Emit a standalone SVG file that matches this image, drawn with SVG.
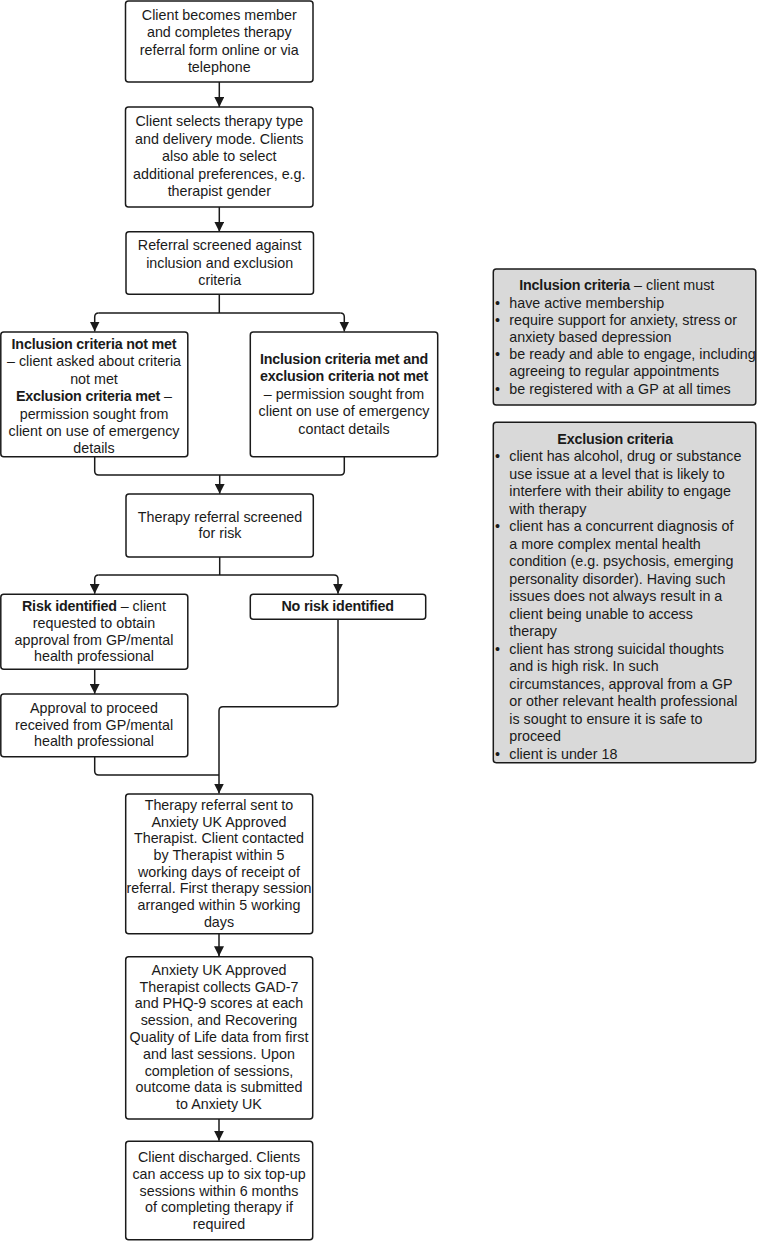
<svg xmlns="http://www.w3.org/2000/svg" width="757" height="1242" viewBox="0 0 757 1242">
<style>
text{font-family:"Liberation Sans",Arial,sans-serif;font-size:14.3px;fill:#1a1a1a}
.c{text-anchor:middle}
.b{font-weight:bold;letter-spacing:-0.2px}
.box{fill:#fff;stroke:#1a1a1a;stroke-width:1.5}
.panel{fill:#d9d9d9;stroke:#1a1a1a;stroke-width:1.5}
.ln{fill:none;stroke:#1a1a1a;stroke-width:1.5}
.ar{fill:none;stroke:#1a1a1a;stroke-width:1.5;marker-end:url(#ah)}
</style>
<defs>
<marker id="ah" markerUnits="userSpaceOnUse" markerWidth="10" markerHeight="10" refX="10" refY="5" orient="auto">
<path d="M0,0 L10,5 L0,10 z" fill="#1a1a1a"/>
</marker>
</defs>
<rect width="757" height="1242" fill="#fff"/>

<g id="connectors">
<path class="ar" d="M219.3 82 V107"/>
<path class="ar" d="M219.3 207 V231.7"/>
<path class="ln" d="M219.3 294.3 V313"/>
<path class="ar" d="M98.7 313 Q94.7 313 94.7 317 V331.5"/>
<path class="ln" d="M98.7 313 H340.3"/>
<path class="ar" d="M340.3 313 Q344.3 313 344.3 317 V331.5"/>
<path class="ln" d="M94.7 456.7 V471 Q94.7 475 98.7 475 H340.3 Q344.3 475 344.3 471 V456.7"/>
<path class="ar" d="M219.7 475 V493.8"/>
<path class="ln" d="M219.7 557 V575"/>
<path class="ar" d="M98.7 575 Q94.7 575 94.7 579 V593.8"/>
<path class="ln" d="M98.7 575 H334"/>
<path class="ar" d="M334 575 Q338 575 338 579 V593.8"/>
<path class="ar" d="M94.7 669.3 V693.8"/>
<path class="ar" d="M338 619.3 V702.7 Q338 706.7 334 706.7 H223 Q219 706.7 219 710.7 V793.5"/>
<path class="ln" d="M94.7 756.7 V771 Q94.7 775 98.7 775 H219"/>
<path class="ar" d="M219 933.7 V956.2"/>
<path class="ar" d="M219 1119 V1140.8"/>
</g>

<g id="n1">
<rect class="box" x="125.5" y="1" width="187.5" height="81" rx="3"/>
<text class="c" x="219.3" y="19.5">Client becomes member</text>
<text class="c" x="219.3" y="37">and completes therapy</text>
<text class="c" x="219.3" y="54.5">referral form online or via</text>
<text class="c" x="219.3" y="72">telephone</text>
</g>

<g id="n2">
<rect class="box" x="125.5" y="107" width="187.5" height="100" rx="3"/>
<text class="c" x="219.3" y="126">Client selects therapy type</text>
<text class="c" x="219.3" y="143.5">and delivery mode. Clients</text>
<text class="c" x="219.3" y="161">also able to select</text>
<text class="c" x="219.3" y="178.5">additional preferences, e.g.</text>
<text class="c" x="219.3" y="196">therapist gender</text>
</g>

<g id="n3">
<rect class="box" x="126" y="231.7" width="187.5" height="62.6" rx="3"/>
<text class="c" x="219.7" y="250">Referral screened against</text>
<text class="c" x="219.7" y="267.5">inclusion and exclusion</text>
<text class="c" x="219.7" y="284.5">criteria</text>
</g>

<g id="n4">
<rect class="box" x="0.8" y="332" width="187" height="124.7" rx="3"/>
<text class="c b" x="94" y="348.5">Inclusion criteria not met</text>
<text class="c" x="94" y="366">– client asked about criteria</text>
<text class="c" x="94" y="383.5">not met</text>
<text class="c" x="94" y="401"><tspan class="b">Exclusion criteria met</tspan> –</text>
<text class="c" x="94" y="418.5">permission sought from</text>
<text class="c" x="94" y="436">client on use of emergency</text>
<text class="c" x="94" y="453">details</text>
</g>

<g id="n5">
<rect class="box" x="250.3" y="332" width="187.4" height="124.7" rx="3"/>
<text class="c b" x="344" y="363.5">Inclusion criteria met and</text>
<text class="c b" x="344" y="381">exclusion criteria not met</text>
<text class="c" x="344" y="398.5">– permission sought from</text>
<text class="c" x="344" y="416">client on use of emergency</text>
<text class="c" x="344" y="433.5">contact details</text>
</g>

<g id="n6">
<rect class="box" x="126" y="494" width="187.3" height="63" rx="3"/>
<text class="c" x="220" y="522">Therapy referral screened</text>
<text class="c" x="220" y="538">for risk</text>
</g>

<g id="n7">
<rect class="box" x="0.8" y="594.3" width="187" height="75" rx="3"/>
<text class="c" x="94" y="611"><tspan class="b">Risk identified</tspan> – client</text>
<text class="c" x="94" y="627.5">requested to obtain</text>
<text class="c" x="94" y="644.5">approval from GP/mental</text>
<text class="c" x="94" y="661">health professional</text>
</g>

<g id="n8">
<rect class="box" x="250.3" y="594.3" width="175.4" height="25" rx="3"/>
<text class="c b" x="337.7" y="611">No risk identified</text>
</g>

<g id="n9">
<rect class="box" x="0.8" y="694" width="187" height="62.7" rx="3"/>
<text class="c" x="94" y="713">Approval to proceed</text>
<text class="c" x="94" y="729.5">received from GP/mental</text>
<text class="c" x="94" y="746">health professional</text>
</g>

<g id="n10">
<rect class="box" x="125.7" y="794" width="187" height="139.7" rx="3"/>
<text class="c" x="219" y="810">Therapy referral sent to</text>
<text class="c" x="219" y="826.7">Anxiety UK Approved</text>
<text class="c" x="219" y="843.3">Therapist. Client contacted</text>
<text class="c" x="219" y="860">by Therapist within 5</text>
<text class="c" x="219" y="876.7">working days of receipt of</text>
<text class="c" x="219" y="893.3">referral. First therapy session</text>
<text class="c" x="219" y="910">arranged within 5 working</text>
<text class="c" x="219" y="926.7">days</text>
</g>

<g id="n11">
<rect class="box" x="125.7" y="956.7" width="187" height="162.3" rx="3"/>
<text class="c" x="219" y="975">Anxiety UK Approved</text>
<text class="c" x="219" y="991.7">Therapist collects GAD-7</text>
<text class="c" x="219" y="1008.3">and PHQ-9 scores at each</text>
<text class="c" x="219" y="1025">session, and Recovering</text>
<text class="c" x="219" y="1041.7">Quality of Life data from first</text>
<text class="c" x="219" y="1059">and last sessions. Upon</text>
<text class="c" x="219" y="1075.7">completion of sessions,</text>
<text class="c" x="219" y="1092.3">outcome data is submitted</text>
<text class="c" x="219" y="1109">to Anxiety UK</text>
</g>

<g id="n12">
<rect class="box" x="125.7" y="1141.3" width="187" height="98.5" rx="3"/>
<text class="c" x="219" y="1162.3">Client discharged. Clients</text>
<text class="c" x="219" y="1179">can access up to six top-up</text>
<text class="c" x="219" y="1195.7">sessions within 6 months</text>
<text class="c" x="219" y="1212.3">of completing therapy if</text>
<text class="c" x="219" y="1229">required</text>
</g>

<g id="inclusion">
<rect class="panel" x="493.3" y="269" width="262.5" height="136" rx="3"/>
<text x="519.3" y="290"><tspan class="b">Inclusion criteria</tspan> – client must</text>
<text x="495" y="307.5">•</text><text x="509.3" y="307.5">have active membership</text>
<text x="495" y="324.7">•</text><text x="509.3" y="324.7">require support for anxiety, stress or</text>
<text x="509.3" y="341.9">anxiety based depression</text>
<text x="495" y="359.1">•</text><text x="509.3" y="359.1">be ready and able to engage, including</text>
<text x="509.3" y="376.3">agreeing to regular appointments</text>
<text x="495" y="393.5">•</text><text x="509.3" y="393.5">be registered with a GP at all times</text>
</g>

<g id="exclusion">
<rect class="panel" x="493.3" y="422.3" width="262.5" height="340.4" rx="3"/>
<text class="b" x="557.3" y="444">Exclusion criteria</text>
<text x="495" y="461">•</text><text x="509.3" y="461">client has alcohol, drug or substance</text>
<text x="509.3" y="478.5">use issue at a level that is likely to</text>
<text x="509.3" y="496">interfere with their ability to engage</text>
<text x="509.3" y="513.5">with therapy</text>
<text x="495" y="531">•</text><text x="509.3" y="531">client has a concurrent diagnosis of</text>
<text x="509.3" y="548.5">a more complex mental health</text>
<text x="509.3" y="566">condition (e.g. psychosis, emerging</text>
<text x="509.3" y="583.5">personality disorder). Having such</text>
<text x="509.3" y="601">issues does not always result in a</text>
<text x="509.3" y="618.5">client being unable to access</text>
<text x="509.3" y="636">therapy</text>
<text x="495" y="653.5">•</text><text x="509.3" y="653.5">client has strong suicidal thoughts</text>
<text x="509.3" y="671">and is high risk. In such</text>
<text x="509.3" y="688.5">circumstances, approval from a GP</text>
<text x="509.3" y="706">or other relevant health professional</text>
<text x="509.3" y="723.5">is sought to ensure it is safe to</text>
<text x="509.3" y="741">proceed</text>
<text x="495" y="758.5">•</text><text x="509.3" y="758.5">client is under 18</text>
</g>
</svg>
